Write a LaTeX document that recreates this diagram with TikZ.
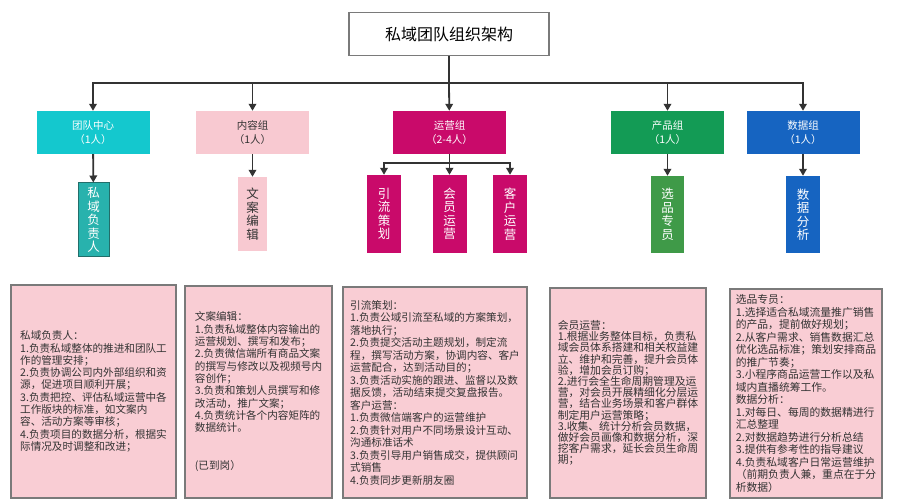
\documentclass[tikz,border=0pt]{standalone}
\usepackage{fontspec}
\setmainfont{Noto Sans CJK SC}
\usepackage{xcolor}
\usepackage{tikz}
\usetikzlibrary{arrows.meta}

\definecolor{teamcyan}{HTML}{14C8CE}
\definecolor{teamteal}{HTML}{28B2AD}
\definecolor{tealedge}{HTML}{226E6A}
\definecolor{contentpink}{HTML}{F8C9D1}
\definecolor{opsmagenta}{HTML}{C90A6A}
\definecolor{prodgreen}{HTML}{139B55}
\definecolor{selgreen}{HTML}{3F9A48}
\definecolor{datablue}{HTML}{1664C1}
\definecolor{dutypink}{HTML}{F9CDD4}
\definecolor{framegray}{HTML}{7A7A7A}
\definecolor{linegray}{HTML}{333333}

\begin{document}
\begin{tikzpicture}[x=1pt,y=-1pt,
    head/.style={draw=framegray,line width=1.3pt,fill=white,minimum width=200pt,minimum height=43pt,font=\fontsize{16}{18}\selectfont},
    dept/.style={minimum width=113pt,minimum height=43pt,inner sep=0pt,align=center,text=white,font=\fontsize{10.5}{14}\selectfont},
    role/.style={minimum width=34pt,minimum height=78pt,inner sep=0pt,align=center,text=white,font=\fontsize{12.5}{13.5}\selectfont},
    duty/.style={draw=framegray,line width=1.3pt,fill=dutypink,inner sep=0pt,align=left,text=linegray,font=\fontsize{10.6}{12.3}\selectfont},
    link/.style={draw=linegray,line width=1.8pt},
    arr/.style={link,-{Triangle[width=7.5pt,length=7pt]}}]
        \useasboundingbox[fill=white] (0,0) rectangle (906,500);

        \node[head] (title) at (449,34) {私域团队组织架构};

        % groups
        \node[dept,fill=teamcyan] (team) at (93,132.5) {团队中心\\（1人）};
        \node[dept,fill=contentpink,text=linegray] (content) at (252.5,132.5) {内容组\\（1人）};
        \node[dept,fill=opsmagenta] (ops) at (449.5,132.5) {运营组\\（2-4人）};
        \node[dept,fill=prodgreen] (prod) at (667.5,132.5) {产品组\\（1人）};
        \node[dept,fill=datablue] (data) at (803,132.5) {数据组\\（1人）};

        % roles
        \node[role,fill=teamteal,draw=tealedge,line width=1pt,minimum width=31pt,minimum height=74pt] (lead) at (93.5,220) {私\\域\\负\\责\\人};
        \node[role,fill=contentpink,text=linegray,minimum width=29pt,minimum height=74pt] (copy) at (252.5,214) {文\\案\\编\\辑};
        \node[role,fill=opsmagenta] (traffic) at (384,214) {引\\流\\策\\划};
        \node[role,fill=opsmagenta] (member) at (449.5,214) {会\\员\\运\\营};
        \node[role,fill=opsmagenta] (client) at (510,214) {客\\户\\运\\营};
        \node[role,fill=selgreen,minimum width=33pt,minimum height=77pt] (pick) at (667.5,214.5) {选\\品\\专\\员};
        \node[role,fill=datablue,minimum width=34pt,minimum height=77pt] (analysis) at (803,214.5) {数\\据\\分\\析};

        % connectors
        \coordinate (bar) at (449,83);
        \coordinate (opsbar) at (449.5,163);
        \draw[link] (title) -- (bar);
        \draw[arr] (bar) -| (team);
        \draw[arr] (bar) -| (content);
        \draw[arr] (bar) -- (ops);
        \draw[arr] (bar) -| (prod);
        \draw[arr] (bar) -| (data);
        \draw[arr] (team) -- (lead);
        \draw[arr] (content) -- (copy);
        \draw[link] (ops) -- (opsbar);
        \draw[arr] (opsbar) -| (traffic);
        \draw[arr] (opsbar) -- (member);
        \draw[arr] (opsbar) -| (client);
        \draw[arr] (prod) -- (pick);
        \draw[arr] (data) -- (analysis);

        % duties
        \node[duty,minimum width=165pt,minimum height=213pt] (dutylead) at (93.5,391.5) {私域负责人：\\1.负责私域整体的推进和团队工\\作的管理安排；\\2.负责协调公司内外部组织和资\\源，促进项目顺利开展；\\3.负责把控、评估私域运营中各\\工作版块的标准，如文案内\\容、活动方案等审核；\\4.负责项目的数据分析，根据实\\际情况及时调整和改进；};
        \node[duty,minimum width=147pt,minimum height=212pt] (dutycopy) at (258.5,392) {文案编辑：\\1.负责私域整体内容输出的\\运营规划、撰写和发布；\\2.负责微信端所有商品文案\\的撰写与修改以及视频号内\\容创作；\\3.负责和策划人员撰写和修\\改活动，推广文案；\\4.负责统计各个内容矩阵的\\数据统计。\\[26pt](已到岗）};
        \node[duty,minimum width=184pt,minimum height=211pt,font=\fontsize{10.6}{12.5}\selectfont] (dutyops) at (435,392.5) {引流策划：\\1.负责公域引流至私域的方案策划，\\落地执行；\\2.负责提交活动主题规划，制定流\\程，撰写活动方案，协调内容、客户\\运营配合，达到活动目的；\\3.负责活动实施的跟进、监督以及数\\据反馈，活动结束提交复盘报告。\\客户运营：\\1.负责微信端客户的运营维护\\2.负责针对用户不同场景设计互动、\\沟通标准话术\\3.负责引导用户销售成交，提供顾问\\式销售\\4.负责同步更新朋友圈};
        \node[duty,minimum width=156pt,minimum height=210pt,font=\fontsize{10.8}{11.2}\selectfont] (dutymember) at (628,393) {会员运营：\\1.根据业务整体目标，负责私\\域会员体系搭建和相关权益建\\立、维护和完善，提升会员体\\验，增加会员订购；\\2.进行会全生命周期管理及运\\营，对会员开展精细化分层运\\营，结合业务场景和客户群体\\制定用户运营策略；\\3.收集、统计分析会员数据，\\做好会员画像和数据分析，深\\挖客户需求，延长会员生命周\\期；};
        \node[duty,minimum width=152pt,minimum height=209pt,font=\fontsize{10.8}{12.5}\selectfont] (dutydata) at (806,393.5) {选品专员：\\1.选择适合私域流量推广销售\\的产品，提前做好规划；\\2.从客户需求、销售数据汇总\\优化选品标准；策划安排商品\\的推广节奏；\\3.小程序商品运营工作以及私\\域内直播统筹工作。\\数据分析：\\1.对每日、每周的数据精进行\\汇总整理\\2.对数据趋势进行分析总结\\3.提供有参考性的指导建议\\4.负责私域客户日常运营维护\\（前期负责人兼，重点在于分\\析数据）};
\end{tikzpicture}
\end{document}
